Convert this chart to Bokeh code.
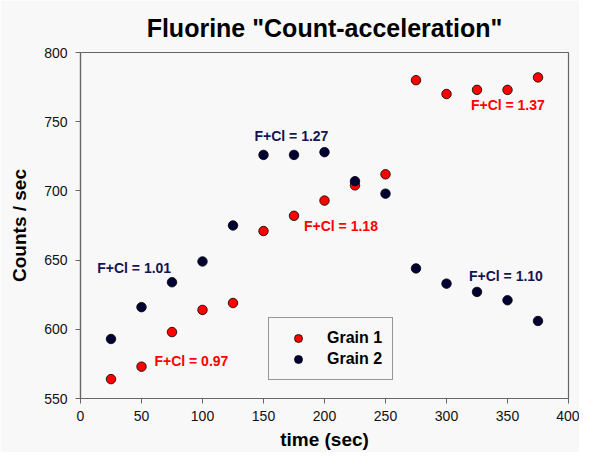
from bokeh.plotting import figure
from bokeh.models import Range1d, SingleIntervalTicker, Legend, LegendItem, ColumnDataSource
from bokeh.embed import file_html
from bokeh.resources import INLINE

time_s = [25, 50, 75, 100, 125, 150, 175, 200, 225, 250, 275, 300, 325, 350, 375]
grain1 = [564, 573, 598, 614, 619, 671, 682, 693, 704, 712, 780, 770, 773, 773, 782]
grain2 = [593, 616, 634, 649, 675, 726, 726, 728, 707, 698, 644, 633, 627, 621, 606]

label_text = ["F+Cl = 0.97", "F+Cl = 1.01", "F+Cl = 1.18", "F+Cl = 1.27", "F+Cl = 1.10", "F+Cl = 1.37"]
label_x = [60.6, 13.7, 183.2, 142.6, 318.4, 320.0]
label_y = [577.3, 644.3, 674.5, 739.4, 638.7, 762.0]
label_color = ["#ff0000", "#141455", "#ff0000", "#141455", "#141455", "#ff0000"]

FONT = "Liberation Sans"
BG = "#f8f8f8"
AX = "#666666"

p = figure(width=579, height=452,
           x_range=Range1d(0, 400), y_range=Range1d(550, 800),
           output_backend="svg", toolbar_location=None,
           min_border_left=80, min_border_right=11, min_border_top=52, min_border_bottom=54,
           title='Fluorine "Count-acceleration"')

p.background_fill_color = BG
p.border_fill_color = BG
p.outline_line_color = AX
p.outline_line_width = 1.2
p.xgrid.visible = False
p.ygrid.visible = False

p.title.align = "center"
p.title.text_font = FONT
p.title.text_font_size = "25px"
p.title.text_font_style = "bold"
p.title.text_color = "#000000"
p.title.standoff = 22

for ax in (p.xaxis[0], p.yaxis[0]):
    ax.ticker = SingleIntervalTicker(interval=50, num_minor_ticks=0)
    ax.axis_line_color = AX
    ax.axis_line_width = 1.2
    ax.major_tick_line_color = AX
    ax.major_tick_in = 0
    ax.major_tick_out = 5
    ax.minor_tick_line_color = None
    ax.major_label_text_font = FONT
    ax.major_label_text_font_size = "14px"
    ax.major_label_text_color = "#111111"
    ax.axis_label_text_font = FONT
    ax.axis_label_text_font_size = "19px"
    ax.axis_label_text_font_style = "bold"
    ax.axis_label_text_color = "#000000"

p.xaxis.axis_label = "time (sec)"
p.yaxis.axis_label = "Counts / sec"
p.xaxis.major_label_standoff = 7
p.xaxis.axis_label_standoff = 5
p.yaxis.major_label_standoff = 8
p.yaxis.axis_label_standoff = 11
p.yaxis.major_label_orientation = "horizontal"

src = ColumnDataSource(dict(t=time_s, g1=grain1, g2=grain2))
r1 = p.scatter("t", "g1", source=src, size=9.5, fill_color="#ff0000", line_color="#000000", line_width=0.8)
r2 = p.scatter("t", "g2", source=src, size=9.5, fill_color="#000033", line_color="#000000", line_width=0.8)

lsrc = ColumnDataSource(dict(x=label_x, y=label_y, text=label_text, color=label_color))
p.text("x", "y", text="text", source=lsrc, text_color="color", text_align="left",
       text_baseline="middle", text_font_size="14px", text_font_style="bold",
       text_font={"value": FONT})

legend = Legend(items=[LegendItem(label="Grain 1", renderers=[r1]),
                       LegendItem(label="Grain 2", renderers=[r2])],
                location=(188, 18))
legend.background_fill_color = BG
legend.background_fill_alpha = 1.0
legend.border_line_color = "#333333"
legend.border_line_width = 1
legend.padding = 10
legend.spacing = 1
legend.glyph_width = 38
legend.glyph_height = 20
legend.label_standoff = 10
legend.label_height = 20
legend.label_text_font = FONT
legend.label_text_font_size = "16px"
legend.label_text_font_style = "bold"
legend.label_text_color = "#000000"
legend.margin = 0
p.add_layout(legend, "center")

open("out.html", "w").write(file_html(p, INLINE))
